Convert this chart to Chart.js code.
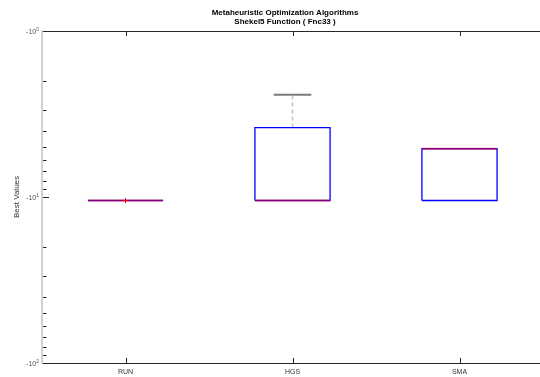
<!DOCTYPE html>
<html>
<head>
<meta charset="utf-8">
<title>Shekel5 Function</title>
<script src="https://cdn.jsdelivr.net/npm/chart.js@4.4.1/dist/chart.umd.min.js"></script>
<style>
    html, body { margin: 0; padding: 0; background: #fff; overflow: hidden; }
    #wrap { position: relative; width: 548px; height: 377px; }
</style>
</head>
<body>
<div id="wrap"><canvas id="boxChart"></canvas></div>
<script>
// Best values per algorithm (box statistics)
const algorithms = ['RUN', 'HGS', 'SMA'];
const lowerWhisker = [-10.5, -10.5, -10.5];
const q1Values = [-10.5, -10.5, -10.5];
const medianValues = [-10.5, -10.5, -5.12];
const q3Values = [-10.5, -3.82, -5.12];
const upperWhisker = [-10.5, -2.42, -5.12];
const outlierValues = [[-10.5], [], []];
const yTickValues = [-1, -10, -100];
const yTickExponents = ['0', '1', '2'];

const titleLines = ['Metaheuristic Optimization Algorithms', 'Shekel5 Function ( Fnc33 )'];
const yAxisTitle = 'Best Values';

const BOX_HALF = 0.225;
const CAP_HALF = 0.1125;
const mag = v => Math.abs(v);

const datasets = [];
algorithms.forEach((name, i) => {
    const x = i + 1;
    // box outline
    datasets.push({
        data: [
            { x: x - BOX_HALF, y: mag(q1Values[i]) },
            { x: x + BOX_HALF, y: mag(q1Values[i]) },
            { x: x + BOX_HALF, y: mag(q3Values[i]) },
            { x: x - BOX_HALF, y: mag(q3Values[i]) },
            { x: x - BOX_HALF, y: mag(q1Values[i]) }
        ],
        borderColor: '#0000ff', borderWidth: 1.3, order: 2
    });
    // upper whisker + cap
    if (upperWhisker[i] !== q3Values[i]) {
        datasets.push({
            data: [{ x: x, y: mag(q3Values[i]) }, { x: x, y: mag(upperWhisker[i]) }],
            borderColor: '#c4c4c4', borderWidth: 1.5, borderDash: [4, 3], order: 3
        });
        datasets.push({
            data: [{ x: x - CAP_HALF, y: mag(upperWhisker[i]) }, { x: x + CAP_HALF, y: mag(upperWhisker[i]) }],
            borderColor: '#7a7a7a', borderWidth: 2, order: 3
        });
    }
    // lower whisker + cap
    if (lowerWhisker[i] !== q1Values[i]) {
        datasets.push({
            data: [{ x: x, y: mag(q1Values[i]) }, { x: x, y: mag(lowerWhisker[i]) }],
            borderColor: '#c4c4c4', borderWidth: 1.5, borderDash: [4, 3], order: 3
        });
        datasets.push({
            data: [{ x: x - CAP_HALF, y: mag(lowerWhisker[i]) }, { x: x + CAP_HALF, y: mag(lowerWhisker[i]) }],
            borderColor: '#7a7a7a', borderWidth: 2, order: 3
        });
    }
    // median
    datasets.push({
        data: [{ x: x - BOX_HALF, y: mag(medianValues[i]) }, { x: x + BOX_HALF, y: mag(medianValues[i]) }],
        borderColor: 'rgba(255,0,0,0.5)', borderWidth: 2, order: 1
    });
    // outliers
    if (outlierValues[i].length) {
        datasets.push({
            data: outlierValues[i].map(v => ({ x: x, y: mag(v) })),
            showLine: false, pointStyle: 'cross', pointRadius: 2.5, pointBorderWidth: 1,
            pointBorderColor: '#ff0000', order: 0
        });
    }
});

// frame, ticks and text drawn against the chart scales
const framePlugin = {
    id: 'frame',
    afterDatasetsDraw(chart) {
        const { ctx, chartArea: a, scales: { x, y } } = chart;
        ctx.save();

        // left axis
        ctx.strokeStyle = '#d2d2d2';
        ctx.lineWidth = 2;
        ctx.beginPath();
        ctx.moveTo(a.left, a.top - 1);
        ctx.lineTo(a.left, a.bottom + 1);
        ctx.stroke();

        // top and bottom axes
        ctx.strokeStyle = '#262626';
        ctx.lineWidth = 1.2;
        ctx.beginPath();
        ctx.moveTo(a.left + 1, a.top + 0.5);
        ctx.lineTo(a.right, a.top + 0.5);
        ctx.moveTo(a.left + 1, a.bottom + 0.5);
        ctx.lineTo(a.right, a.bottom + 0.5);
        ctx.stroke();

        // x ticks (inward, top and bottom)
        ctx.lineWidth = 1;
        ctx.beginPath();
        algorithms.forEach((n, i) => {
            const px = Math.round(x.getPixelForValue(i + 1)) + 0.5;
            ctx.moveTo(px, a.top);
            ctx.lineTo(px, a.top + 5);
            ctx.moveTo(px, a.bottom);
            ctx.lineTo(px, a.bottom - 5);
        });
        ctx.stroke();

        // y ticks: majors and minors
        ctx.beginPath();
        [1, 10].forEach(d => {
            for (let m = 1; m <= 9; m++) {
                const py = Math.round(y.getPixelForValue(m * d)) + 0.5;
                const len = m === 1 ? 6 : 3.5;
                ctx.moveTo(a.left + 1, py);
                ctx.lineTo(a.left + 1 + len, py);
            }
        });
        ctx.stroke();

        // y tick labels
        ctx.fillStyle = '#555';
        ctx.textBaseline = 'middle';
        yTickValues.forEach((v, i) => {
            const py = y.getPixelForValue(mag(v));
            ctx.font = '5px "Liberation Sans", Arial, sans-serif';
            ctx.textAlign = 'right';
            const ew = ctx.measureText(yTickExponents[i]).width;
            ctx.fillText(yTickExponents[i], a.left - 3, py - 1.5);
            ctx.font = '7px "Liberation Sans", Arial, sans-serif';
            ctx.fillText('-10', a.left - 3 - ew, py + 1.5);
        });

        // x tick labels
        ctx.fillStyle = '#333';
        ctx.font = '7px "Liberation Sans", Arial, sans-serif';
        ctx.textAlign = 'center';
        algorithms.forEach((n, i) => {
            ctx.fillText(n, x.getPixelForValue(i + 1), a.bottom + 9);
        });

        // y axis title
        ctx.save();
        ctx.translate(17, (a.top + a.bottom) / 2);
        ctx.rotate(-Math.PI / 2);
        ctx.font = '8px "Liberation Sans", Arial, sans-serif';
        ctx.fillStyle = '#333';
        ctx.fillText(yAxisTitle, 0, 0);
        ctx.restore();

        // title
        ctx.fillStyle = '#000';
        ctx.font = 'bold 8px "Liberation Sans", Arial, sans-serif';
        ctx.fillText(titleLines[0], 285, 13);
        ctx.fillText(titleLines[1], 285, 22);

        ctx.restore();
    }
};

new Chart(document.getElementById('boxChart'), {
    type: 'scatter',
    data: { datasets: datasets.map(ds => ({ showLine: true, pointRadius: 0, fill: false, ...ds })) },
    options: {
        responsive: true,
        maintainAspectRatio: false,
        animation: false,
        layout: { padding: { left: 42, right: 5, top: 31, bottom: 14 } },
        plugins: { legend: { display: false }, tooltip: { enabled: false }, title: { display: false } },
        scales: {
            x: { type: 'linear', min: 0.5, max: 3.5, display: false },
            y: { type: 'logarithmic', min: 1, max: 100, reverse: true, display: false }
        }
    },
    plugins: [framePlugin]
});
</script>
</body>
</html>
